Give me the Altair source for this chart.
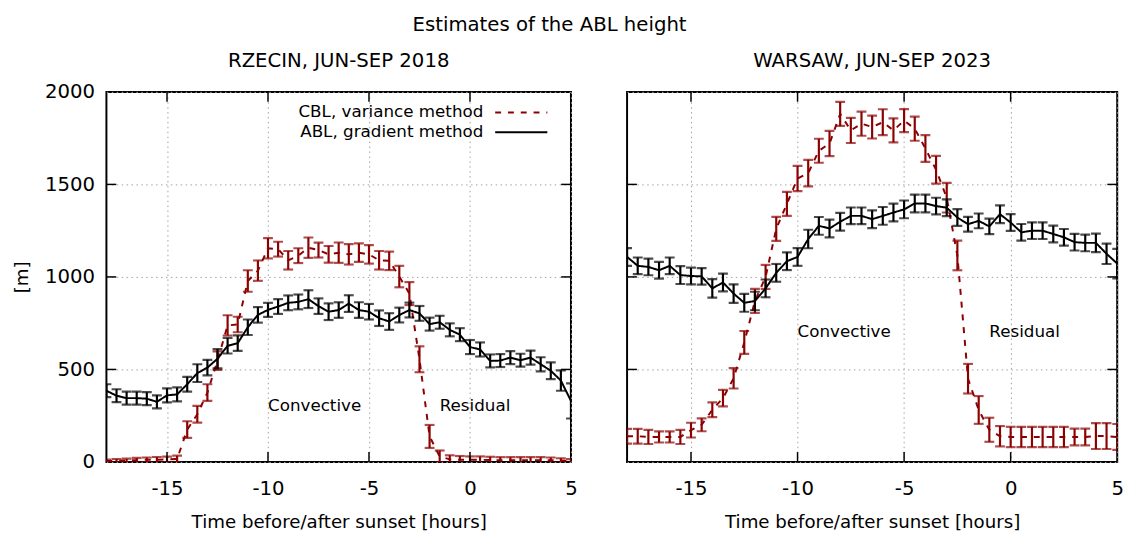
import altair as alt
import pandas as pd

FONT = "DejaVu Sans"
RED = "#8b0000"

hours = [-18.0, -17.5, -17.0, -16.5, -16.0, -15.5, -15.0, -14.5, -14.0, -13.5,
         -13.0, -12.5, -12.0, -11.5, -11.0, -10.5, -10.0, -9.5, -9.0, -8.5,
         -8.0, -7.5, -7.0, -6.5, -6.0, -5.5, -5.0, -4.5, -4.0, -3.5,
         -3.0, -2.5, -2.0, -1.5, -1.0, -0.5, 0.0, 0.5, 1.0, 1.5,
         2.0, 2.5, 3.0, 3.5, 4.0, 4.5, 5.0]

# RZECIN, JUN-SEP 2018
rz_abl = [385, 358, 345, 345, 342, 325, 360, 365, 420, 480,
          510, 558, 628, 642, 728, 795, 822, 840, 860, 865,
          880, 842, 812, 821, 856, 821, 812, 777, 759, 794,
          821, 803, 745, 755, 714, 688, 621, 608, 546, 548,
          564, 550, 564, 528, 493, 440, 330]
rz_abl_err = [35, 35, 35, 35, 35, 35, 38, 38, 40, 48,
              42, 52, 42, 42, 42, 42, 38, 40, 40, 40,
              48, 42, 45, 42, 45, 42, 42, 42, 45, 40,
              40, 40, 35, 35, 35, 35, 38, 38, 35, 35,
              35, 35, 38, 38, 45, 55, 95]
rz_cbl = [5, 6, 8, 10, 12, 12, 14, 16, 175, 258,
          375, 548, 738, 743, 978, 1034, 1155, 1150, 1090, 1115,
          1158, 1145, 1122, 1131, 1122, 1131, 1122, 1090, 1087, 1002,
          910, 555, 138, 30, 14, 12, 12, 12, 10, 10,
          10, 10, 10, 10, 10, 8, 5]
rz_cbl_err = [8, 10, 10, 12, 12, 15, 15, 18, 45, 45,
              45, 50, 55, 42, 58, 55, 55, 40, 50, 40,
              55, 40, 45, 55, 55, 50, 50, 50, 50, 58,
              62, 70, 62, 32, 22, 20, 18, 18, 18, 16,
              16, 16, 16, 16, 14, 12, 10]

# WARSAW, JUN-SEP 2023
wa_abl = [1108, 1060, 1054, 1036, 1060, 1010, 1005, 1003, 938, 970,
          910, 860, 870, 938, 1022, 1085, 1108, 1205, 1276, 1262,
          1298, 1330, 1330, 1312, 1330, 1348, 1365, 1397, 1397, 1383,
          1374, 1321, 1285, 1303, 1273, 1339, 1294, 1241, 1250, 1250,
          1232, 1214, 1188, 1184, 1184, 1125, 1072]
wa_abl_err = [48, 45, 45, 45, 45, 48, 45, 45, 50, 48,
              50, 48, 50, 48, 48, 48, 48, 50, 48, 48,
              48, 45, 45, 48, 48, 48, 48, 48, 48, 45,
              45, 45, 40, 40, 42, 48, 45, 45, 45, 45,
              45, 45, 45, 45, 50, 55, 80]
wa_cbl = [139, 139, 135, 135, 135, 135, 172, 201, 282, 345,
          452, 646, 870, 1000, 1260, 1395, 1532, 1561, 1682, 1721,
          1881, 1792, 1828, 1810, 1836, 1792, 1845, 1801, 1694, 1579,
          1428, 1116, 450, 281, 174, 139, 135, 135, 135, 135,
          135, 135, 135, 135, 140, 140, 135]
wa_cbl_err = [40, 40, 38, 30, 30, 38, 40, 35, 40, 45,
              55, 62, 65, 65, 65, 65, 68, 72, 65, 68,
              65, 68, 65, 62, 70, 65, 62, 65, 72, 75,
              80, 80, 80, 75, 65, 55, 55, 55, 55, 55,
              55, 55, 45, 45, 70, 70, 70]

panel_titles = ["RZECIN, JUN-SEP 2018", "WARSAW, JUN-SEP 2023"]
legend_labels = ["CBL, variance method", "ABL, gradient method"]
ann_text = ["Convective", "Residual"]
rz_ann_x = [-10, -1.5]
rz_ann_y = [300, 300]
wa_ann_x = [-10, -1]
wa_ann_y = [700, 700]

x_ticks = [-15, -10, -5, 0, 5]
y_ticks = [0, 500, 1000, 1500, 2000]

XDOM = [-18, 5]
YDOM = [0, 2000]
H = 376


def frame_df(vals, errs):
    return pd.DataFrame({
        "t": hours,
        "v": vals,
        "lo": [v - e for v, e in zip(vals, errs)],
        "hi": [v + e for v, e in zip(vals, errs)],
    })


def panel(abl, abl_err, cbl, cbl_err, ann_x, ann_y, width, left, title, legend):
    xs = alt.Scale(domain=XDOM, nice=False, zero=False)
    ys = alt.Scale(domain=YDOM, nice=False)
    xax = alt.Axis(values=x_ticks, grid=True, ticks=False, tickSize=0, domain=False,
                   labelExpr="'' + datum.value", labelFlush=False,
                   title="Time before/after sunset [hours]")
    if left:
        yax = alt.Axis(values=y_ticks, grid=True, ticks=False, tickSize=0, domain=False,
                       labelExpr="'' + datum.value", labelFlush=False, title="[m]")
    else:
        yax = alt.Axis(values=y_ticks, grid=True, ticks=False, tickSize=0, domain=False,
                       labels=False, title=None)

    dfa = frame_df(abl, abl_err)
    dfc = frame_df(cbl, cbl_err)

    X = alt.X("t:Q", scale=xs, axis=xax)
    Y = alt.Y("v:Q", scale=ys, axis=yax)

    def series(df, color, dash):
        base = alt.Chart(df)
        line = base.mark_line(color=color, strokeWidth=2, strokeDash=dash, clip=True).encode(x=X, y=Y)
        bars = base.mark_rule(color=color, strokeWidth=2.2, clip=True).encode(
            x="t:Q", y=alt.Y("lo:Q", scale=ys), y2="hi:Q")
        cap_lo = base.mark_tick(color=color, thickness=2.2, size=10, orient="horizontal", clip=True).encode(
            x="t:Q", y=alt.Y("lo:Q", scale=ys))
        cap_hi = base.mark_tick(color=color, thickness=2.2, size=10, orient="horizontal", clip=True).encode(
            x="t:Q", y=alt.Y("hi:Q", scale=ys))
        return [line, bars, cap_lo, cap_hi]

    layers = []
    layers += series(dfc, RED, [6, 7])
    layers += series(dfa, "black", [1, 0])

    ann = pd.DataFrame({"label": ann_text, "x": ann_x, "y": ann_y})
    layers.append(alt.Chart(ann).mark_text(align="left", baseline="middle", fontSize=17,
                                           font=FONT, color="black").encode(
        x=alt.X("x:Q", scale=xs), y=alt.Y("y:Q", scale=ys), text="label:N"))

    # inward tick marks on all four sides
    tx = pd.DataFrame({"t": x_ticks[:-1]})
    ty = pd.DataFrame({"v": y_ticks[1:-1]})
    layers.append(alt.Chart(tx).mark_rule(color="black", strokeWidth=1.5).encode(
        x=alt.X("t:Q", scale=xs), y=alt.value(H), y2=alt.value(H - 10)))
    layers.append(alt.Chart(tx).mark_rule(color="black", strokeWidth=1.5).encode(
        x=alt.X("t:Q", scale=xs), y=alt.value(0), y2=alt.value(10)))
    layers.append(alt.Chart(ty).mark_rule(color="black", strokeWidth=1.5).encode(
        y=alt.Y("v:Q", scale=ys), x=alt.value(0), x2=alt.value(10)))
    layers.append(alt.Chart(ty).mark_rule(color="black", strokeWidth=1.5).encode(
        y=alt.Y("v:Q", scale=ys), x=alt.value(width - 10), x2=alt.value(width)))

    if legend:
        for i, (lab, col, dash) in enumerate(zip(legend_labels, [RED, "black"], [[6, 7], [1, 0]])):
            yy = 21 + 20 * i
            layers.append(alt.Chart(pd.DataFrame({"label": [lab]})).mark_text(
                align="right", baseline="middle", fontSize=17, font=FONT, color="black").encode(
                x=alt.value(383), y=alt.value(yy), text="label:N"))
            layers.append(alt.Chart(pd.DataFrame({"label": [lab]})).mark_rule(
                color=col, strokeWidth=2, strokeDash=dash).encode(
                x=alt.value(395), x2=alt.value(448), y=alt.value(yy)))

    # the left panel's top label ("2000") sticks out above the frame, so its
    # title needs a smaller offset to line up with the right panel's title
    return alt.layer(*layers).properties(
        width=width, height=H,
        title=alt.TitleParams(title, fontSize=20, font=FONT, fontWeight="normal",
                              offset=11 if left else 21))


left = panel(rz_abl, rz_abl_err, rz_cbl, rz_cbl_err, rz_ann_x, rz_ann_y, 472, True, panel_titles[0], True)
right = panel(wa_abl, wa_abl_err, wa_cbl, wa_cbl_err, wa_ann_x, wa_ann_y, 498, False, panel_titles[1], False)

chart = alt.hconcat(left, right, spacing=47).properties(
    padding={"left": 4, "top": 3, "right": 5, "bottom": 0},
    title=alt.TitleParams("Estimates of the ABL height", fontSize=20, font=FONT,
                          fontWeight="normal", anchor="middle", offset=15, dx=-19)
).configure_view(
    stroke="black", strokeWidth=2
).configure_axis(
    labelFont=FONT, titleFont=FONT, labelFontSize=20, titleFontSize=18.5,
    titleFontWeight="normal", labelColor="black", titleColor="black",
    gridColor="#a0a0a0", gridDash=[1.5, 3.5], gridWidth=1, gridOpacity=1
).configure_axisX(
    labelPadding=17, titlePadding=15
).configure_axisY(
    labelPadding=12, titlePadding=13
)

chart.save("out.html", embed_options={"renderer": "svg", "actions": False})
